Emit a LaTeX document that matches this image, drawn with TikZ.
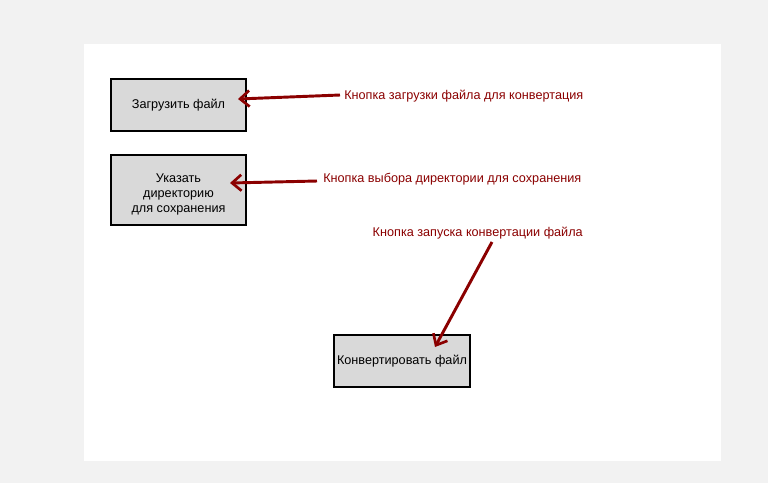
\documentclass[tikz,border=0pt]{standalone}
\usepackage{fontspec}
\setmainfont{Liberation Sans}
\usetikzlibrary{arrows.meta}
\definecolor{bgc}{HTML}{F2F2F2}
\definecolor{boxc}{HTML}{D9D9D9}
\definecolor{arrc}{HTML}{8B0000}
\begin{document}
\begin{tikzpicture}[x=0.75pt,y=-0.75pt,
  btn/.style={draw=black,line width=1.5pt,fill=boxc,align=center,font=\fontsize{9.5}{11.25}\selectfont,inner sep=0pt},
  btntext/.style={align=center,font=\fontsize{9.5}{11.25}\selectfont,inner sep=0pt},
  note/.style={text=arrc,font=\fontsize{9.5}{11.25}\selectfont,inner sep=0pt},
  pointer/.style={draw=arrc,line width=2.2pt,-{Straight Barb[length=7pt,width=12pt,line width=2pt]}}]
\fill[bgc] (0,0) rectangle (768,483);
\useasboundingbox (0,0) rectangle (768,483);
\fill[white] (84,44) rectangle (721,461);
\node[btn,minimum width=101.25pt,minimum height=39pt] (b1) at (178.5,105) {Загрузить файл};
\node[btn,minimum width=101.25pt,minimum height=52.5pt] (b2) at (178.5,190) {};
\node[btntext] (t2) at (178.5,194) {Указать\\директорию\\для сохранения};
\node[btn,minimum width=102pt,minimum height=39pt] (b3) at (402,361) {Конвертировать файл};
\node[note,anchor=west] (n1) at (344,96) {Кнопка загрузки файла для конвертация};
\node[note,anchor=west] (n2) at (323,179) {Кнопка выбора директории для сохранения};
\node[note,anchor=east] (n3) at (583,233) {Кнопка запуска конвертации файла};
\coordinate (s1) at (340,95);
\coordinate (e1) at (238,99);
\coordinate (s2) at (317,181);
\coordinate (e2) at (230,183);
\coordinate (s3) at (492,242);
\coordinate (e3) at (435,347);
\draw[pointer] (s1) -- (e1);
\draw[pointer] (s2) -- (e2);
\draw[pointer] (s3) -- (e3);
\end{tikzpicture}
\end{document}
